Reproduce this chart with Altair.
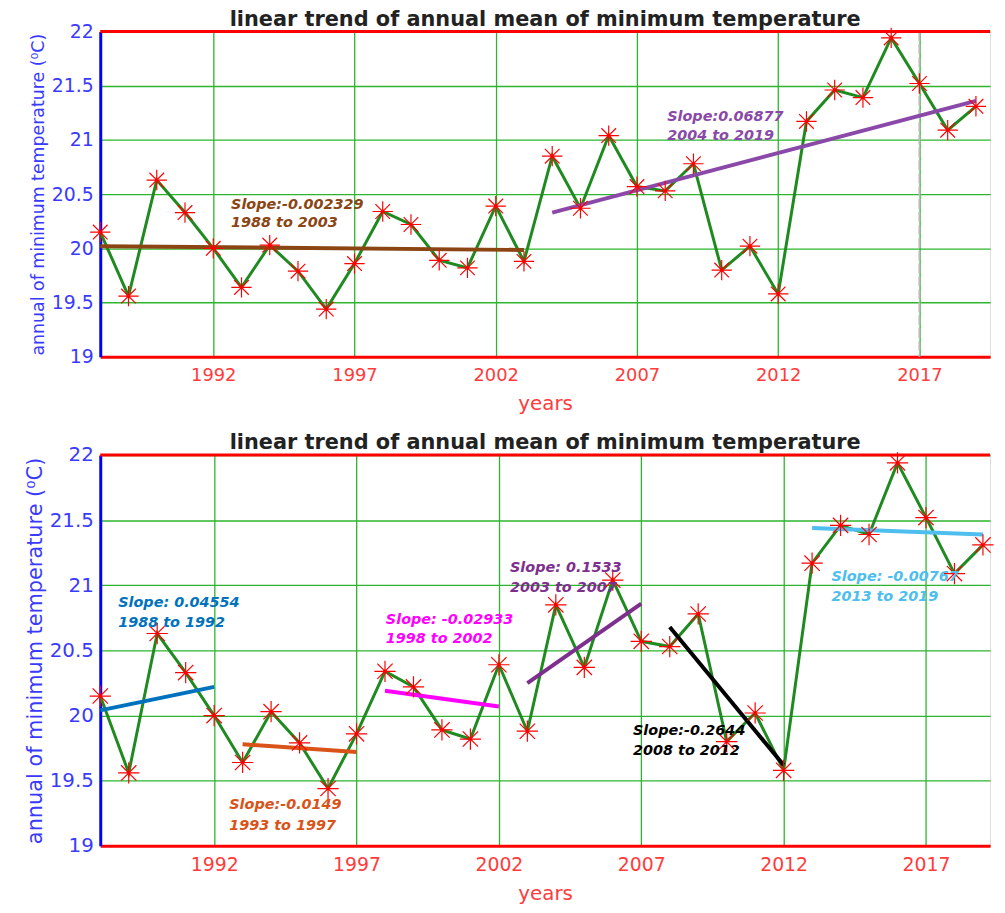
import altair as alt
import pandas as pd

# ---------------- data ----------------
years = list(range(1988, 2020))
tmin = [20.15, 19.56, 20.63, 20.33, 20.00, 19.64, 20.03, 19.79, 19.44, 19.86,
        20.34, 20.22, 19.89, 19.82, 20.39, 19.88, 20.85, 20.37, 21.04, 20.57,
        20.53, 20.78, 19.80, 20.02, 19.58, 21.17, 21.46, 21.39, 21.94, 21.52,
        21.09, 21.31]

# top panel: one long trend split in two periods
top_start = [1988, 2004]
top_end = [2003, 2019]
top_v0 = [20.02, 20.33]
top_v1 = [19.985, 21.36]
top_colors = ["#8B4513", "#8A49A8"]
top_slope = ["Slope:-0.002329", "Slope:0.06877"]
top_period = ["1988 to 2003", "2004 to 2019"]
top_note_x = [1992.63, 2008.07]
top_note_y1 = [20.40, 21.21]
top_note_y2 = [20.23, 21.04]

# bottom panel: five-year trends
bot_start = [1988, 1993, 1998, 2003, 2008, 2013]
bot_end = [1992, 1997, 2002, 2007, 2012, 2019]
bot_v0 = [20.04, 19.78, 20.19, 20.25, 20.68, 21.44]
bot_v1 = [20.22, 19.72, 20.07, 20.86, 19.62, 21.39]
bot_colors = ["#0072BD", "#D95319", "#FF00FF", "#7E2F8E", "#000000", "#4DBEEE"]
bot_slope = ["Slope: 0.04554", "Slope:-0.0149", "Slope: -0.02933",
             "Slope: 0.1533", "Slope:-0.2644", "Slope: -0.00767"]
bot_period = ["1988 to 1992", "1993 to 1997", "1998 to 2002",
              "2003 to 2007", "2008 to 2012", "2013 to 2019"]
bot_note_x = [1988.63, 1992.53, 1998.03, 2002.39, 2006.71, 2013.68]
bot_note_y1 = [20.865, 19.31, 20.736, 21.13, 19.88, 21.06]
bot_note_y2 = [20.71, 19.15, 20.59, 20.98, 19.73, 20.91]

x_ticks = [1992, 1997, 2002, 2007, 2012, 2017]
y_ticks = [19, 19.5, 20, 20.5, 21, 21.5, 22]

TITLE = "linear trend of annual mean of minimum temperature"
YTITLE = "annual of minimum temperature (\u2070C)"
FONT = "DejaVu Sans"
GRID = "#2db52d"
STAR = "M-1,0L1,0M0,-1L0,1M-0.72,-0.72L0.72,0.72M-0.72,0.72L0.72,-0.72"


def panel(height, xmax, starts, ends, v0, v1, colors, slopes, periods,
          nx, ny1, ny2, lab_size, ytitle_size, star_size, extra_grey=False):
    df = pd.DataFrame({"year": years, "value": tmin})
    seg = pd.DataFrame({"year": starts, "year2": ends, "value": v0,
                        "value2": v1, "color": colors})
    notes = pd.DataFrame({
        "year": nx + nx,
        "value": ny1 + ny2,
        "label": slopes + periods,
        "color": colors + colors,
    })

    X = alt.X("year:Q",
              scale=alt.Scale(domain=[1988, xmax], nice=False, zero=False),
              axis=alt.Axis(values=x_ticks, format="d", title="years",
                            grid=True, gridColor=GRID, gridWidth=1.3,
                            gridOpacity=1, ticks=False,
                            domainColor="#ff0000", domainWidth=3,
                            labelColor="#ff3b3b", labelFont=FONT,
                            labelFontSize=lab_size, labelPadding=10,
                            titleColor="#ff3b3b", titleFont=FONT,
                            titleFontSize=20, titleFontWeight="normal",
                            titlePadding=9))
    Y = alt.Y("value:Q",
              scale=alt.Scale(domain=[19, 22], nice=False, zero=False),
              axis=alt.Axis(values=y_ticks, format="~g", title=YTITLE,
                            grid=True, gridColor=GRID, gridWidth=1.3,
                            gridOpacity=1, ticks=False,
                            domainColor="#0000ff", domainWidth=3,
                            labelColor="#3a3aff", labelFont=FONT,
                            labelFontSize=lab_size + 1, labelPadding=7,
                            titleColor="#3a3aff", titleFont=FONT,
                            titleFontSize=ytitle_size,
                            titleFontWeight="normal", titlePadding=4))

    line = alt.Chart(df).mark_line(color="#1f8a1f", strokeWidth=3).encode(x=X, y=Y)
    trends = alt.Chart(seg).mark_rule(strokeWidth=4).encode(
        x=X, x2="year2:Q", y=Y, y2="value2:Q",
        color=alt.Color("color:N", scale=None))
    stars = alt.Chart(df).mark_point(shape=STAR, filled=False, color="#ff0000",
                                     strokeWidth=1.2, size=star_size,
                                     opacity=1).encode(x=X, y=Y)
    texts = alt.Chart(notes).mark_text(align="left", baseline="middle",
                                       font=FONT, fontSize=14.5,
                                       fontWeight="bold",
                                       fontStyle="italic").encode(
        x=X, y=Y, text="label:N", color=alt.Color("color:N", scale=None))
    border = alt.Chart(pd.DataFrame({"value": [22]})).mark_rule(
        color="#ff0000", strokeWidth=3).encode(y=Y)

    layers = [line]
    if extra_grey:
        grey = alt.Chart(pd.DataFrame({"year": [2017]})).mark_rule(
            color="#bbbbbb", strokeWidth=2, strokeDash=[10, 3]).encode(x=X)
        layers.append(grey)
    layers += [trends, stars, texts, border]

    return alt.layer(*layers).properties(
        width=897, height=height,
        title=alt.TitleParams(TITLE, font=FONT, fontSize=21, fontWeight="bold",
                              color="#222222", anchor="middle", offset=-8,
                              frame="group"))


top = panel(328, 2019.5, top_start, top_end, top_v0, top_v1, top_colors,
            top_slope, top_period, top_note_x, top_note_y1, top_note_y2,
            18, 17.5, 420, extra_grey=True)
bottom = panel(394, 2019.25, bot_start, bot_end, bot_v0, bot_v1, bot_colors,
               bot_slope, bot_period, bot_note_x, bot_note_y1, bot_note_y2,
               19, 21, 460)

chart = alt.vconcat(top, bottom, spacing=17).properties(
    padding={"left": 15, "top": -3, "right": 0, "bottom": 0}
).configure_view(stroke=None).configure(background="white")

chart.save("out.html", embed_options={"renderer": "svg", "actions": False})
